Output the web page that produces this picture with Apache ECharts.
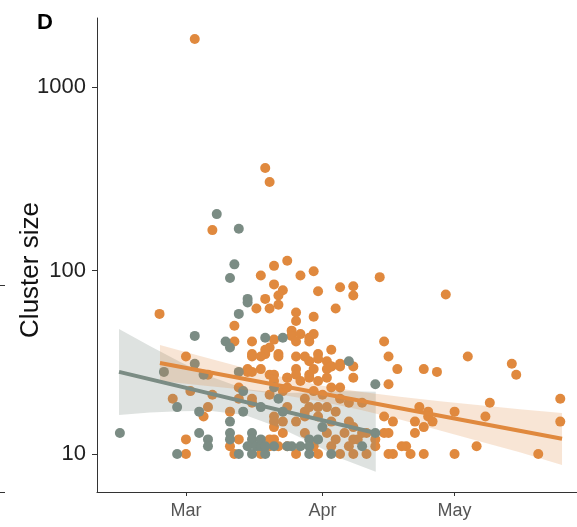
<!DOCTYPE html>
<html>
<head>
<meta charset="utf-8">
<script src="https://cdn.jsdelivr.net/npm/echarts@6/dist/echarts.min.js"></script>
<style>
  html, body { margin: 0; padding: 0; background: #fff; }
  #chart { width: 577px; height: 527px; }
</style>
</head>
<body>
<div id="chart"></div>
<script>
// x = days since 1 March, y = cluster size
var tickDays = [0, 31, 61];
var tickNames = ['Mar', 'Apr', 'May'];
var sizeTicks = [10, 100, 1000];

var orangePts = [
    [2, 1830], [18, 362], [19, 304], [6, 166],
    [20, 106], [23, 113], [17, 94], [26, 94], [29, 99], [44, 92], [59, 74],
    [35, 81], [38, 82], [38, 73], [30, 77], [20, 84], [22, 78], [21, 73],
    [18, 70], [16, 62], [19, 62], [21, 65], [25, 59], [25, 53], [34, 62],
    [29, 56], [11, 50], [24, 47], [24, 44], [26, 45], [28, 43], [29, 45],
    [11, 41], [15, 41], [20, 42], [19, 38], [18, 37], [15, 35], [18, 35],
    [21, 35], [25, 41], [28, 41], [30, 35], [33, 37], [32, 32], [45, 41],
    [46, 34], [64, 34], [-6, 58],
    [28, 32], [29, 29], [25, 29], [25, 27], [23, 26], [32, 29], [35, 31],
    [33, 30], [38, 30], [38, 26], [48, 29], [46, 24], [54, 29], [57, 28],
    [74, 31], [75, 27],
    [53, 18], [55, 17], [55, 16], [56, 15], [54, 14], [61, 17], [52, 15],
    [52, 13], [47, 15], [45, 16], [45, 13], [46, 13], [50, 11], [49, 11],
    [51, 10], [54, 10], [61, 10], [66, 11], [47, 10], [46, 10], [43, 11],
    [41, 13], [41, 10], [39, 12], [69, 19], [68, 16], [80, 10], [85, 20], [85, 15],
    [0, 34], [1, 22], [6, 21], [-3, 20], [5, 18], [4, 16], [0, 12], [0, 10],
    [5, 27], [10, 17], [12, 20], [15, 19], [20, 16], [12, 12], [10, 11],
    [19, 12], [21, 11], [11, 10], [17, 10],
    [14, 28], [15, 28], [17, 29], [19, 27], [20, 25], [23, 26], [12, 23],
    [15, 34], [17, 34], [21, 34], [25, 34], [14, 29], [20, 27], [26, 25],
    [28, 27], [15, 20], [19, 21], [22, 22], [23, 23], [23, 18], [22, 15],
    [20, 15], [20, 14], [25, 15], [27, 17], [20, 12], [19, 11], [22, 13],
    [23, 11], [25, 10],
    [27, 34], [30, 33], [33, 30], [35, 30], [28, 26], [30, 25], [32, 26],
    [35, 23], [33, 23], [29, 22], [31, 21], [35, 20], [37, 19], [40, 19],
    [27, 20], [28, 18], [30, 18], [32, 18], [34, 17], [27, 16], [30, 16],
    [33, 15], [37, 15], [38, 14], [27, 13], [32, 13], [36, 13], [40, 13],
    [34, 12], [38, 12], [43, 12], [30, 10], [35, 10], [38, 10], [29, 11],
    [33, 11], [37, 11]
];

var greyPts = [
    [7, 203], [12, 169], [11, 108], [10, 91], [14, 70], [14, 67], [12, 58],
    [9, 41], [10, 38], [18, 43], [22, 43], [37, 32], [43, 24], [2, 44],
    [2, 31], [-5, 28], [4, 27], [12, 28], [13, 22], [20, 23], [21, 20],
    [17, 18], [13, 17], [-2, 18], [3, 17], [-15, 13], [3, 13], [5, 12],
    [5, 11], [-2, 10], [10, 15], [10, 13], [10, 12], [12, 10], [15, 13],
    [15, 12], [14, 11], [16, 11], [17, 11], [15, 10], [18, 10], [20, 11],
    [24, 11], [26, 11], [28, 12], [17, 12], [18, 11], [23, 11], [22, 17],
    [31, 14], [43, 13], [30, 12], [40, 11], [28, 11], [28, 10], [33, 10]
];

// fitted lines (log scale) and their confidence bands
var greyLineDays = [-15.2, 43.1];
var greyLineVals = [28.0, 13.0];
var orangeLineDays = [-5.9, 85.4];
var orangeLineVals = [31.3, 12.1];

var greyBandDays = [-15.2, -8.2, -1.4, 5.4, 13.4, 21.3, 28.1, 34.9, 43.1];
var greyBandLo = [16.3, 16.8, 17.1, 17.2, 16.3, 13.9, 11.6, 9.5, 8.0];
var greyBandHi = [48.0, 38.8, 31.8, 26.5, 22.6, 21.5, 21.6, 22.0, 21.8];

var orangeBandDays = [-5.9, 3.2, 12.3, 21.3, 30.4, 39.5, 48.6, 57.7, 66.8, 75.8, 85.4];
var orangeBandLo = [25.0, 23.7, 22.5, 21.1, 19.4, 17.4, 15.4, 13.4, 11.7, 10.2, 8.7];
var orangeBandHi = [39.3, 34.2, 29.9, 26.4, 23.7, 21.8, 20.5, 19.4, 18.4, 17.5, 16.7];

var ORANGE = '#e0893e';
var GREY = '#7b8c84';
var FONT = 'Liberation Sans';

function pairs(xs, ys) {
    return xs.map(function (x, i) { return [x, ys[i]]; });
}

function bandSeries(days, lo, hi, fill) {
    return {
        type: 'custom',
        silent: true,
        z: 3,
        data: days.map(function (d, i) { return [d, lo[i], hi[i]]; }),
        encode: { x: 0, y: [1, 2] },
        renderItem: function (params, api) {
            if (params.dataIndex !== 0) return;
            var pts = [];
            for (var i = 0; i < days.length; i++) pts.push(api.coord([days[i], hi[i]]));
            for (var j = days.length - 1; j >= 0; j--) pts.push(api.coord([days[j], lo[j]]));
            return { type: 'polygon', shape: { points: pts }, style: { fill: fill } };
        }
    };
}

function lineSeries(days, vals, color) {
    return {
        type: 'line',
        z: 4,
        data: pairs(days, vals),
        symbol: 'none',
        silent: true,
        lineStyle: { color: color, width: 4 }
    };
}

var myChart = echarts.init(document.getElementById('chart'));
myChart.setOption({
    animation: false,
    grid: { left: 97, top: 18, right: 0, bottom: 35 },
    xAxis: {
        type: 'value',
        min: -20.2,
        max: 88.8,
        splitLine: { show: false },
        axisLine: { onZero: false, lineStyle: { color: '#333', width: 1 } },
        axisTick: { customValues: tickDays, length: 4, lineStyle: { color: '#333' } },
        axisLabel: {
            customValues: tickDays,
            margin: 10,
            color: '#555',
            fontFamily: FONT,
            fontSize: 18,
            formatter: function (v) { return tickNames[tickDays.indexOf(v)]; }
        }
    },
    yAxis: {
        type: 'log',
        logBase: 10,
        min: 6.2,
        max: 2380,
        splitLine: { show: false },
        axisLine: { show: true, onZero: false, lineStyle: { color: '#333', width: 1 } },
        axisTick: { show: true, customValues: sizeTicks, length: 5, lineStyle: { color: '#333' } },
        axisLabel: {
            customValues: sizeTicks,
            margin: 11,
            color: '#222',
            fontFamily: FONT,
            fontSize: 22,
            formatter: function (v) { return String(Math.round(v)); }
        }
    },
    graphic: [
        { type: 'text', left: 37, top: 12, style: { text: 'D', font: 'bold 22px ' + FONT, fill: '#000' } },
        {
            type: 'text', x: 31, y: 270, rotation: Math.PI / 2,
            style: { text: 'Cluster size', font: '26px ' + FONT, fill: '#111', textAlign: 'center', textVerticalAlign: 'middle' }
        },
        { type: 'line', shape: { x1: 0, y1: 285.5, x2: 5, y2: 285.5 }, style: { stroke: '#333', lineWidth: 1 } },
        { type: 'line', shape: { x1: 0, y1: 492.5, x2: 5, y2: 492.5 }, style: { stroke: '#333', lineWidth: 1 } }
    ],
    series: [
        { type: 'scatter', z: 2, symbolSize: 10, data: orangePts, itemStyle: { color: ORANGE, opacity: 1 } },
        { type: 'scatter', z: 2, symbolSize: 10, data: greyPts, itemStyle: { color: GREY, opacity: 1 } },
        bandSeries(greyBandDays, greyBandLo, greyBandHi, 'rgba(123,140,132,0.25)'),
        bandSeries(orangeBandDays, orangeBandLo, orangeBandHi, 'rgba(224,137,62,0.22)'),
        lineSeries(greyLineDays, greyLineVals, GREY),
        lineSeries(orangeLineDays, orangeLineVals, ORANGE)
    ]
});
</script>
</body>
</html>
